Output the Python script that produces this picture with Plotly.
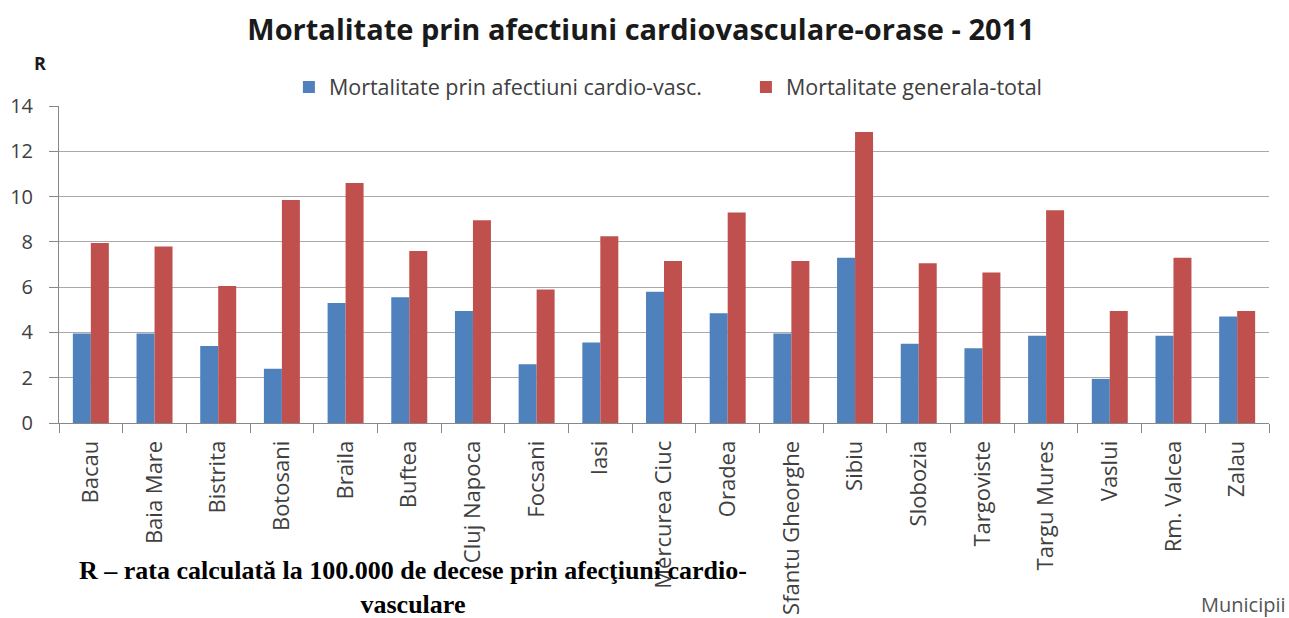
import plotly.graph_objects as go

orase = ["Bacau", "Baia Mare", "Bistrita", "Botosani", "Braila", "Buftea",
         "Cluj Napoca", "Focsani", "Iasi", "Mercurea Ciuc", "Oradea",
         "Sfantu Gheorghe", "Sibiu", "Slobozia", "Targoviste", "Targu Mures",
         "Vaslui", "Rm. Valcea", "Zalau"]

# rata mortalitatii prin afectiuni cardio-vasculare
cardio = [3.95, 3.95, 3.4, 2.4, 5.3, 5.55, 4.95, 2.6, 3.55, 5.8, 4.85,
          3.95, 7.3, 3.5, 3.3, 3.85, 1.95, 3.85, 4.7]
# mortalitate generala
general = [7.95, 7.8, 6.05, 9.85, 10.6, 7.6, 8.95, 5.9, 8.25, 7.15, 9.3,
           7.15, 12.85, 7.05, 6.65, 9.4, 4.95, 7.3, 4.95]

data = [
    go.Bar(x=orase, y=cardio, name="Mortalitate prin afectiuni cardio-vasc.",
           marker=dict(color="#4F81BD", line=dict(width=0))),
    go.Bar(x=orase, y=general, name="Mortalitate generala-total",
           marker=dict(color="#C0504D", line=dict(width=0))),
]

layout = go.Layout(
    width=1289, height=618,
    margin=dict(l=59, r=20, t=106, b=195),
    paper_bgcolor="white", plot_bgcolor="white",
    font=dict(family="Open Sans", color="#404040"),
    title=dict(text="<b>Mortalitate prin afectiuni cardiovasculare-orase - 2011</b>",
               x=0.4973, xanchor="center", y=0.9515, yanchor="middle",
               yref="container", font=dict(size=29, color="#1a1a1a")),
    barmode="group", bargap=0.435, bargroupgap=0,
    showlegend=True,
    legend=dict(orientation="h", x=0.19, xanchor="left", y=1.06, yanchor="middle",
                font=dict(size=21.5, color="#404040"), entrywidth=412,
                itemwidth=30, bgcolor="rgba(0,0,0,0)"),
    xaxis=dict(showline=True, linecolor="#888888", linewidth=1,
               ticks="outside", tickson="boundaries", ticklen=9, tickcolor="#888888",
               tickangle=-90, tickfont=dict(size=22, color="#404040"),
               ticklabelstandoff=8, showgrid=False, automargin=False),
    yaxis=dict(range=[0, 14], dtick=2, showline=True, linecolor="#888888",
               ticks="outside", ticklen=9, tickcolor="#888888",
               gridcolor="#aaaaaa", gridwidth=1, ticklabelstandoff=12,
               tickfont=dict(size=20, color="#404040"), automargin=False,
               zeroline=False),
    annotations=[
        dict(text="<b>R</b>", xref="paper", yref="paper", x=-0.016, xanchor="center",
             y=1.136, yanchor="middle",
             showarrow=False, font=dict(size=18, color="#1a1a1a")),
        dict(text="<b>R – rata calculată la 100.000 de decese prin afecţiuni cardio-<br>vasculare</b>",
             xref="paper", yref="paper", x=0.2925, xanchor="center",
             y=-0.52, yanchor="middle", align="center",
             showarrow=False, font=dict(family="Liberation Serif", size=26, color="black")),
        dict(text="Municipii", xref="paper", yref="paper", x=1.016, xanchor="right",
             y=-0.574, yanchor="middle",
             showarrow=False, font=dict(size=20, color="#555555")),
    ],
)

fig = go.Figure(data=data, layout=layout)
# drop the default 8px body margin so the figure fills the window exactly
fig.write_html("out.html", config={"displayModeBar": False},
               post_script="document.body.style.margin = '0';")
